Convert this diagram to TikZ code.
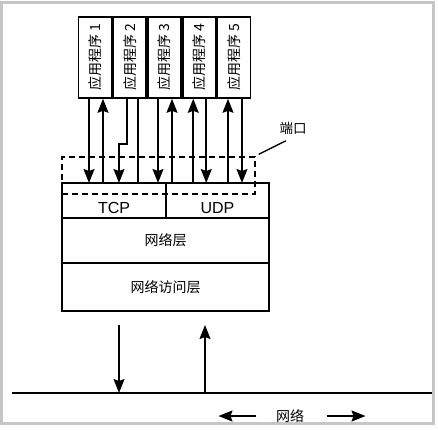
\documentclass[tikz,border=0pt]{standalone}
\usepackage{graphicx}
\usepackage{fontspec}
\setmainfont{Liberation Sans}
\newfontfamily\cjk{Noto Sans CJK SC}
\usetikzlibrary{arrows.meta,positioning}

\begin{document}
\begin{tikzpicture}[x=1pt,y=-1pt]
        \tikzset{app/.style = {shape=rectangle,draw,line width=1.6pt,minimum width=33pt,minimum height=81pt,inner sep=0pt,font=\cjk\fontsize{14}{14}\selectfont}}
        \tikzset{layer/.style = {shape=rectangle,draw,line width=1.6pt,inner sep=0pt,outer sep=0pt,font=\cjk\fontsize{14}{14}\selectfont}}
        \tikzset{link/.style = {line width=1.6pt}}
        \tikzset{fwd/.style = {link,-{Stealth[length=14pt,width=11pt,inset=2pt]}}}
        \tikzset{bwd/.style = {link,{Stealth[length=14pt,width=11pt,inset=2pt]}-}}
        \useasboundingbox (0,0) rectangle (438,429);
        % frame
        \draw[gray!45,line width=3pt] (1.5,2) rectangle (433.5,423.5);
        % applications
        \foreach \i in {1,...,5}
            \node[app] (app\i) at ({95+34.75*(\i-1)},57.5) {\rotatebox{90}{应用程序 \i}};
        % protocol stack
        \node[layer,minimum width=104pt,minimum height=35pt,font=\fontsize{16}{16}\selectfont] (tcp) at (114,200.5) {\raisebox{-12.5pt}[0pt][0pt]{TCP}};
        \node[layer,minimum width=103pt,minimum height=35pt,font=\fontsize{16}{16}\selectfont,right=0pt of tcp] (udp) {\raisebox{-12.5pt}[0pt][0pt]{UDP}};
        \node[layer,minimum width=207pt,minimum height=45pt,anchor=north west] (net) at (tcp.south west) {网络层};
        \node[layer,minimum width=207pt,minimum height=48pt,anchor=north west] (access) at (net.south west) {网络访问层};
        % ports
        \node[draw,line width=1.4pt,dash pattern=on 6pt off 4pt,minimum width=193pt,minimum height=37pt,inner sep=0pt] (port) at (158.5,175.5) {};
        \node[font=\cjk\fontsize{13.5}{13.5}\selectfont] (portlabel) at (293,128) {端口};
        \draw[line width=1.3pt] ([xshift=10pt,yshift=-3pt]portlabel.south west) -- ([xshift=3pt,yshift=2pt]port.north east);
        % edges
        \foreach \n/\dx/\dir in {1/-6/fwd,1/8/bwd,3/-6.5/fwd,3/7.5/bwd,4/-6/bwd,4/7/fwd,5/-6/bwd,5/8/fwd}
            \draw[\dir] ([xshift=\dx pt]app\n.south) coordinate (top) -- (top |- tcp.north);
        \draw[fwd] ([xshift=-2.75pt]app2.south) coordinate (jog) -- ++(0,45) -- ++(-8,0) coordinate (jog2) -- (jog2 |- tcp.north);
        \draw[link] ([xshift=8pt]app2.south) coordinate (top) -- (top |- tcp.north);
        % network
        \coordinate (lanL) at (12,393);
        \coordinate (lanR) at (432,393);
        \draw[line width=1.6pt] (lanL) -- (lanR);
        \coordinate (tx) at ([xshift=-46.5pt,yshift=-14pt]access.south);
        \draw[fwd] (tx) -- (tx |- lanL);
        \coordinate (rx) at ([xshift=39.5pt,yshift=-14pt]access.south);
        \draw[bwd] (rx) -- (rx |- lanL);
        \node[font=\cjk\fontsize{14}{14}\selectfont] (lan) at (290,416) {网络};
        \draw[fwd] ([xshift=-16pt]lan.west) -- ++(-38,0);
        \draw[fwd] ([xshift=19pt]lan.east) -- ++(39,0);
\end{tikzpicture}
\end{document}
